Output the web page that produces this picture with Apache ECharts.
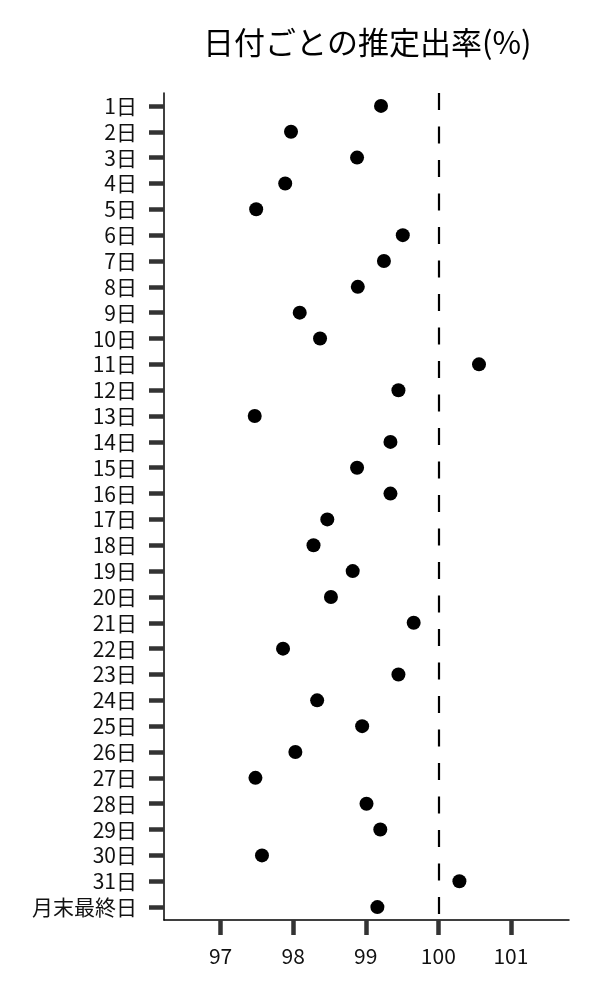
<!DOCTYPE html>
<html>
<head>
<meta charset="utf-8">
<script src="https://cdn.jsdelivr.net/npm/echarts@6/dist/echarts.min.js"></script>
<style>
html,body{margin:0;padding:0;background:#fff;}
#chart{width:600px;height:1000px;}
</style>
</head>
<body>
<div id="chart"></div>
<script>
const categories = ['1日','2日','3日','4日','5日','6日','7日','8日','9日','10日','11日','12日','13日','14日','15日','16日','17日','18日','19日','20日','21日','22日','23日','24日','25日','26日','27日','28日','29日','30日','31日','月末最終日'];
const rates = [99.21,97.97,98.88,97.89,97.49,99.51,99.25,98.89,98.09,98.37,100.56,99.45,97.47,99.34,98.88,99.34,98.47,98.28,98.82,98.52,99.66,97.86,99.45,98.33,98.95,98.03,97.48,99.01,99.20,97.57,100.29,99.16];
const xTicks = [97,98,99,100,101];
const referenceValue = 100;
const titleText = '日付ごとの推定出率(%)';

const font = 'Noto Sans CJK JP';
const chart = echarts.init(document.getElementById('chart'));
chart.setOption({
  animation: false,
  backgroundColor: '#fff',
  title: {
    text: titleText,
    left: 198,
    top: 22,
    textStyle: {fontFamily: font, fontSize: 31, fontWeight: 'normal', color: '#000'}
  },
  grid: {left: 164, right: 31, top: 93, bottom: 80, containLabel: false},
  xAxis: {
    type: 'value',
    min: 96.22,
    max: 101.8,
    splitLine: {show: false},
    axisLine: {show: true, lineStyle: {color: '#000', width: 1.5}},
    axisTick: {show: true, length: 15, inside: false, customValues: xTicks, lineStyle: {color: '#333', width: 4.5}},
    axisLabel: {customValues: xTicks, margin: 26, fontFamily: font, fontSize: 21, color: '#111'}
  },
  yAxis: {
    type: 'category',
    data: categories,
    inverse: true,
    boundaryGap: true,
    splitLine: {show: false},
    axisLine: {show: true, lineStyle: {color: '#000', width: 1.5}},
    axisTick: {show: true, alignWithLabel: true, length: 15, lineStyle: {color: '#333', width: 4.5}},
    axisLabel: {margin: 27, fontFamily: font, fontSize: 21, color: '#111', interval: 0}
  },
  series: [{
    type: 'scatter',
    data: rates.map((v, i) => [v, categories[i]]),
    symbolSize: 14,
    itemStyle: {color: '#000', opacity: 1},
    markLine: {
      silent: true,
      symbol: ['none', 'none'],
      label: {show: false},
      lineStyle: {color: '#000', width: 2.2, type: [17, 16.5]},
      data: [{xAxis: referenceValue}]
    }
  }]
});
</script>
</body>
</html>
